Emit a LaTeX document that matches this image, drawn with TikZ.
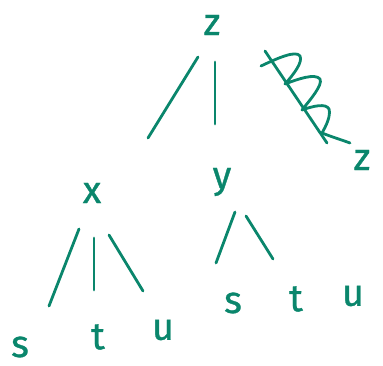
\documentclass[tikz,border=0pt]{standalone}
\usepackage{fontspec}
\setmainfont{Fira Sans}
\definecolor{pen}{RGB}{10,134,108}
\begin{document}
\begin{tikzpicture}[x=1pt,y=-1pt,
  lbl/.style={text=pen,font=\fontsize{38}{38}\selectfont\addfontfeature{FakeBold=0.9},inner sep=0pt},
  stroke/.style={draw=pen,line width=2.8pt,line cap=round,line join=round}]
\useasboundingbox (0,0) rectangle (383,366);
% labels
\node[lbl] (z) at (212,25) {z};
\node[lbl] (z2) at (362,160) {z};
\node[lbl] (x) at (92,193) {x};
\node[lbl] (y) at (222,182) {y};
\node[lbl] (s1) at (20,347) {s};
\node[lbl] (t1) at (98,337) {t};
\node[lbl] (u1) at (163,330) {u};
\node[lbl] (s2) at (233,303) {s};
\node[lbl] (t2) at (296,299) {t};
\node[lbl] (u2) at (353,296) {u};
% endpoints
\coordinate (za1) at (198,57); \coordinate (za2) at (148,138);
\coordinate (zb1) at (215,62); \coordinate (zb2) at (215,124);
\coordinate (zc1) at (265,51); \coordinate (zc2) at (327,143);
\coordinate (xa1) at (79,229); \coordinate (xa2) at (49,306);
\coordinate (xb1) at (94,238); \coordinate (xb2) at (94,290);
\coordinate (xc1) at (109,235); \coordinate (xc2) at (143,291);
\coordinate (ya1) at (235,212); \coordinate (ya2) at (216,263);
\coordinate (yb1) at (246,216); \coordinate (yb2) at (273,259);
% strokes
\draw[stroke] (za1) -- (za2);
\draw[stroke] (zb1) -- (zb2);
\draw[stroke] (zc1) -- (zc2);
\draw[stroke] (261,66) .. controls (278,58) and (296,50) .. (300,56)
  .. controls (303,62) and (294,74) .. (285,84)
  .. controls (298,79) and (315,73) .. (320,79)
  .. controls (323,85) and (310,100) .. (302,110)
  .. controls (313,106) and (326,103) .. (329,109)
  .. controls (331,116) and (326,126) .. (322,133)
  .. controls (332,137) and (342,140) .. (350,143);
\draw[stroke] (xa1) -- (xa2);
\draw[stroke] (xb1) -- (xb2);
\draw[stroke] (xc1) -- (xc2);
\draw[stroke] (ya1) -- (ya2);
\draw[stroke] (yb1) -- (yb2);
\end{tikzpicture}
\end{document}
